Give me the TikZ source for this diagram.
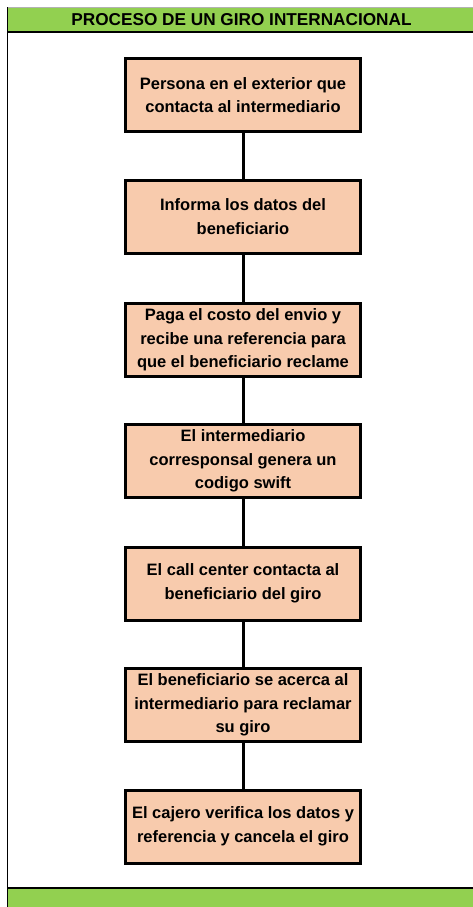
\documentclass[tikz,border=0pt]{standalone}
\usepackage{fontspec}
\setmainfont{Liberation Sans}
\definecolor{verde}{HTML}{92D050}
\definecolor{durazno}{HTML}{F8CBAD}
\begin{document}
\begin{tikzpicture}[x=1pt,y=1pt]
  \tikzstyle{paso}=[draw, line width=3pt, fill=durazno, minimum width=235pt, minimum height=73pt,
    align=center, inner sep=2pt, font=\fontsize{16.5}{23.5}\selectfont\bfseries]
  \tikzstyle{linea}=[draw, line width=3pt]
  \useasboundingbox (0,0) rectangle (472,-907);

  % marco con encabezado y pie verdes
  \fill[verde] (7.5,-7.5) rectangle (480,-32);
  \fill[verde] (7.5,-888) rectangle (480,-910);
  \draw[gray!60, line width=0.8pt] (7.5,-7.5) -- (480,-7.5);
  \draw[line width=1.2pt] (480,-32) -- (7.5,-32) -- (7.5,-888) -- (480,-888);
  \draw[line width=1.2pt] (7.5,-7.5) -- (7.5,-32);
  \draw[line width=1.2pt] (7.5,-888) -- (7.5,-910);
  \node[font=\fontsize{17.2}{20}\selectfont\bfseries] (titulo) at (241.5,-20) {PROCESO DE UN GIRO INTERNACIONAL};

  % pasos del giro
  \node[paso] (p1) at (243,-95) {Persona en el exterior que\\contacta al intermediario};
  \node[paso] (p2) at (243,-216.5) {Informa los datos del\\beneficiario};
  \node[paso] (p3) at (243,-340) {Paga el costo del envio y\\recibe una referencia para\\que el beneficiario reclame};
  \node[paso] (p4) at (243,-461) {El intermediario\\corresponsal genera un\\codigo swift};
  \node[paso] (p5) at (243,-583.5) {El call center contacta al\\beneficiario del giro};
  \node[paso] (p6) at (243,-705) {El beneficiario se acerca al\\intermediario para reclamar\\su giro};
  \node[paso] (p7) at (243,-826.5) {El cajero verifica los datos y\\referencia y cancela el giro};

  % conectores
  \foreach \a/\b in {p1/p2, p2/p3, p3/p4, p4/p5, p5/p6, p6/p7} {
    \draw[linea] (\a) -- (\b);
  }
\end{tikzpicture}
\end{document}
